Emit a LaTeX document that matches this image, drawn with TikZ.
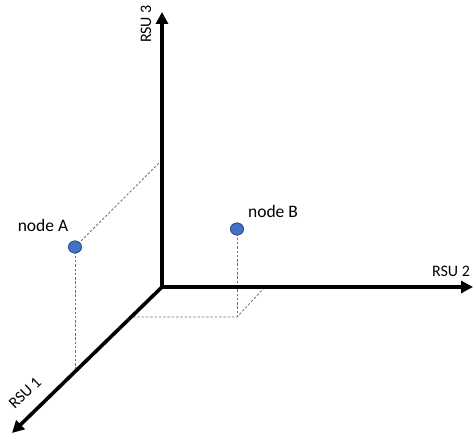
\documentclass[tikz,border=0pt]{standalone}
\usepackage{fontspec}
\setmainfont{Carlito}
\usetikzlibrary{arrows.meta,shapes.geometric}
\definecolor{dotfill}{HTML}{4472C4}
\definecolor{dotline}{HTML}{2F528F}
\tikzset{
  axis/.style={line width=3.6pt,-{Triangle[length=12pt,width=12pt]}},
  proj/.style={draw=black!55,line width=0.8pt,dash pattern=on 2.5pt off 1.8pt},
  dot/.style={ellipse,draw=dotline,line width=0.8pt,fill=dotfill,minimum width=13pt,minimum height=12pt,inner sep=0pt},
  axlabel/.style={font=\fontsize{16}{19}\selectfont,inner sep=0pt},
  nlabel/.style={font=\fontsize{17.5}{21}\selectfont,inner sep=0pt}
}
\begin{document}
\begin{tikzpicture}[x=1pt,y=-1pt]
\useasboundingbox (0,0) rectangle (474,441);
% origin and axis ends
\coordinate (O) at (162,287);
\coordinate (Z) at (162,12);
\coordinate (Y) at (473,287);
\coordinate (X) at (12,433);
% projection helpers
\coordinate (Az) at (160,162);
\coordinate (Ax) at (75,369);
\coordinate (Bf) at (237,317);
\coordinate (Bx) at (133,317);
\coordinate (By) at (265,287);
% dots
\node[dot] (A) at (75,247) {};
\node[dot] (B) at (237,229) {};
% projections
\begin{scope}[on background layer/.style={}]
\end{scope}
\path[proj] (A.center) -- (Az);
\path[proj] (A.center) -- (Ax);
\path[proj] (B.center) -- (Bf);
\path[proj] (Bx) -- (Bf) -- (By);
% redraw dots on top
\node[dot] at (A) {};
\node[dot] at (B) {};
% axes
\draw[axis] (O) -- (Z);
\draw[axis] (O) -- (Y);
\draw[axis] (O) -- (X);
\draw[line width=3.6pt] (162,289) -- (162,285);
% labels
\node[axlabel,rotate=90] (l3) at (146,24) {RSU 3};
\node[axlabel] (l2) at (451,271) {RSU 2};
\node[axlabel,rotate=44] (l1) at (25,393) {RSU 1};
\node[nlabel] (lA) at (43,225) {node A};
\node[nlabel] (lB) at (273,211) {node B};
\end{tikzpicture}
\end{document}
